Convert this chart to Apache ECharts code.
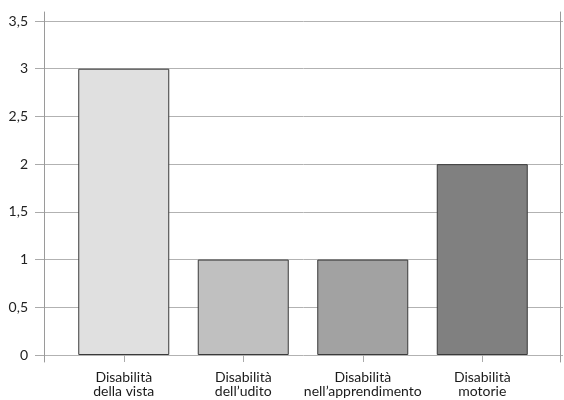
<!DOCTYPE html>
<html><head><meta charset="utf-8">
<script src="https://cdn.jsdelivr.net/npm/echarts@6/dist/echarts.min.js"></script>
<style>html,body{margin:0;padding:0;background:#fff}#c{width:564px;height:400px}</style>
</head><body><div id="c"></div>
<script>
var categories = ['Disabilità\ndella vista', 'Disabilità\ndell\u2019udito', 'Disabilità\nnell\u2019apprendimento', 'Disabilità\nmotorie'];
var values = [3, 1, 1, 2];
var barColors = ['#e0e0e0', '#c0c0c0', '#a2a2a2', '#808080'];
var yMin = 0, yMax = 3.5, yStep = 0.5;

var font = 'Lato, "Noto Sans", sans-serif';
var chart = echarts.init(document.getElementById('c'), null, {renderer: 'canvas'});
chart.setOption({
  animation: false,
  backgroundColor: '#fff',
  grid: [
    {left: 44, right: 1, top: 21, bottom: 45, outerBoundsMode: 'none', containLabel: false},
    {left: 64, right: 22, top: 21, bottom: 45, outerBoundsMode: 'none', containLabel: false},
    {left: 44, right: 4, top: 12, bottom: 38, outerBoundsMode: 'none', containLabel: false}
  ],
  xAxis: [
    {gridIndex: 0, type: 'value', show: false, min: 0, max: 1},
    {gridIndex: 1, type: 'category', data: categories,
     axisLine: {show: false},
     axisTick: {show: true, alignWithLabel: true, length: 7, lineStyle: {color: '#aaaaaa'}},
     axisLabel: {margin: 15, fontFamily: font, fontSize: 14, color: '#1a1a1a', lineHeight: 14, interval: 0}},
    {gridIndex: 2, type: 'value', show: false, min: 0, max: 1}
  ],
  yAxis: [
    {gridIndex: 0, type: 'value', min: yMin, max: yMax, interval: yStep,
     axisLine: {show: false},
     axisTick: {show: true, length: 9, lineStyle: {color: '#aaaaaa'}},
     splitLine: {show: true, lineStyle: {color: '#b2b2b2', width: 1}},
     axisLabel: {margin: 16, fontFamily: font, fontSize: 14, color: '#222',
       formatter: function (v) { return String(v).replace('.', ','); }}},
    {gridIndex: 1, type: 'value', min: yMin, max: yMax, interval: yStep, show: false},
    {gridIndex: 2, type: 'value', min: 0, max: 1, position: 'left',
     axisLine: {show: true, lineStyle: {color: '#9a9a9a', width: 1}},
     axisTick: {show: false}, axisLabel: {show: false}, splitLine: {show: false}},
    {gridIndex: 2, type: 'value', min: 0, max: 1, position: 'right',
     axisLine: {show: true, lineStyle: {color: '#9a9a9a', width: 1}},
     axisTick: {show: false}, axisLabel: {show: false}, splitLine: {show: false}}
  ],
  series: [{
    type: 'bar', xAxisIndex: 1, yAxisIndex: 1, barWidth: 91,
    data: values.map(function (v, i) {
      return {value: v, itemStyle: {color: barColors[i]}};
    }),
    itemStyle: {borderColor: '#3a3a3a', borderWidth: 1}
  }]
});
</script></body></html>
